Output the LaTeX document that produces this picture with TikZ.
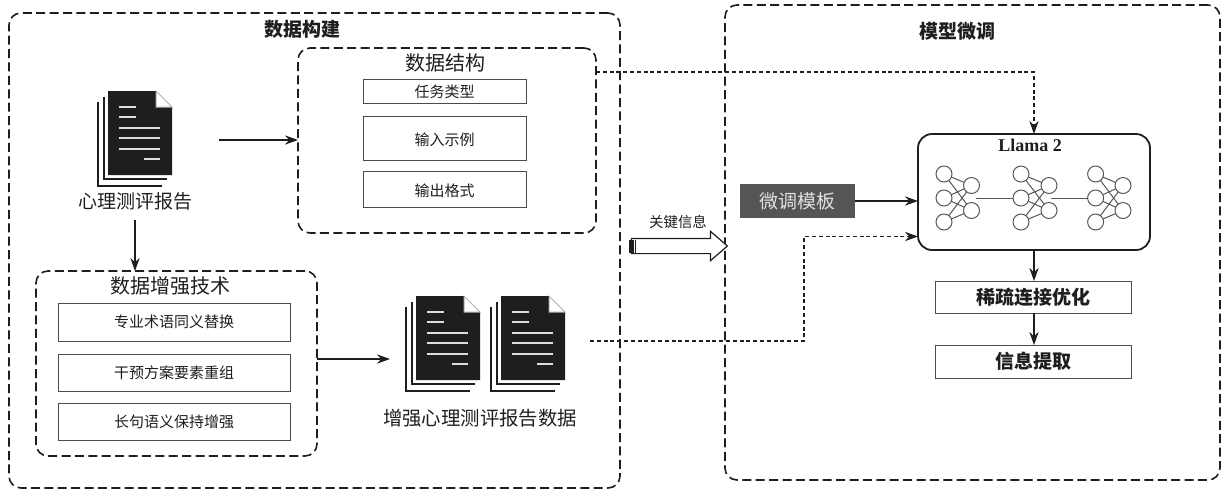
\documentclass[tikz,border=0pt]{standalone}
\usepackage{fontspec}
\setmainfont{Liberation Serif}
\newfontfamily\cjk{Noto Sans CJK SC}
\usetikzlibrary{fit,arrows.meta,shapes.arrows}
\definecolor{ink}{HTML}{1E1E1E}
\definecolor{slate}{HTML}{555555}
\definecolor{paper}{HTML}{DDDDDD}
\tikzset{
  dashbox/.style={draw=ink,line width=0.8pt,dash pattern=on 4.5pt off 2.2pt,rounded corners=6pt,inner sep=0pt,outer sep=0pt},
  plainbox/.style={draw=ink!80,line width=0.5pt,inner sep=0pt,outer sep=0pt},
  flow/.style={ink,line width=0.8pt,-{Stealth[length=6.5pt,width=4.6pt]}},
  dotflow/.style={ink,line width=0.6pt,dash pattern=on 2pt off 1.4pt,-{Stealth[length=6.5pt,width=4.6pt]}},
  neuron/.style={circle,draw=ink!75,line width=0.5pt,minimum size=8pt,inner sep=0pt,outer sep=0pt},
  synapse/.style={ink!75,line width=0.5pt},
  heading/.style={font=\cjk\bfseries\fontsize{9.5}{11}\selectfont,text=ink},
  subhead/.style={font=\cjk\fontsize{10}{12}\selectfont,text=ink},
  small/.style={font=\cjk\fontsize{7.5}{9}\selectfont,text=ink},
  docstack/.pic={
    \draw[ink,line width=1.2pt] (-4,6) -- (-4,88) -- (59,88);
    \draw[ink,line width=1.2pt] (-10,11) -- (-10,95) -- (54,95);
    \fill[ink] (0,0) -- (48,0) -- (64,16) -- (64,84) -- (0,84) -- cycle;
    \draw[paper!80!black,line width=0.5pt,fill=white] (48,0) -- (64,16) -- (48,16) -- cycle;
    \foreach \y/\a/\b in {16/11/28,26/11/28,37/11/52,47/11/52,58/11/52,68/36/52}{\draw[paper,line width=1pt] (\a,\y) -- (\b,\y);}
  }
}
\begin{document}
\begin{tikzpicture}[x=0.5pt,y=-0.5pt]
  \useasboundingbox (0,0) rectangle (1221,495);
  % left and right frames
  \node[dashbox,fit={(9,13) (620,488)}] (buildbox) {};
  \node[dashbox,fit={(725,5) (1220,480)}] (tunebox) {};
  \node[heading] (buildtitle) at (302,29) {数据构建};
  \node[heading] (tunetitle) at (957,31) {模型微调};
  % data structure
  \node[dashbox,fit={(298,48) (596,233)}] (structbox) {};
  \node[subhead] (structtitle) at (445,63) {数据结构};
  \node[plainbox,fit={(363,79) (526,103)},small] (tasktype) {};
  \node[small] (tasklabel) at ([yshift=-0.5pt]tasktype) {任务类型};
  \node[plainbox,fit={(363,116) (526,160)}] (inputbox) {};
  \node[small] (inputlabel) at ([yshift=-1pt]inputbox) {输入示例};
  \node[plainbox,fit={(363,171) (526,207)}] (outputbox) {};
  \node[small] (outputlabel) at ([yshift=-1pt]outputbox) {输出格式};
  % augmentation
  \node[dashbox,fit={(36,271) (317,456)}] (augbox) {};
  \node[subhead] (augtitle) at (170,286) {数据增强技术};
  \node[plainbox,fit={(58,303) (290,341)}] (synbox) {};
  \node[small] (synlabel) at (synbox) {专业术语同义替换};
  \node[plainbox,fit={(58,354) (290,391)}] (planbox) {};
  \node[small] (planlabel) at (planbox) {干预方案要素重组};
  \node[plainbox,fit={(58,403) (290,440)}] (longbox) {};
  \node[small] (longlabel) at (longbox) {长句语义保持增强};
  % documents
  \pic at (108,91) {docstack};
  \pic at (416,296) {docstack};
  \pic at (501,296) {docstack};
  \node[font=\cjk\fontsize{9.5}{11}\selectfont,text=ink] (reportlabel) at (135,201) {心理测评报告};
  \node[font=\cjk\fontsize{9.7}{12}\selectfont,text=ink] (auglabel) at (480,418) {增强心理测评报告数据};
  \coordinate (reportout) at (219,140);
  \coordinate (augin) at (390,359);
  \draw[flow] (reportout) -- (structbox.west |- reportout);
  \draw[flow,shorten <=1.5pt] (reportlabel.south) -- (reportlabel.south |- augbox.north);
  \draw[flow] (augbox.east |- augin) -- (augin);
  % key information arrow
  \node[single arrow,draw=ink,fill=white,line width=0.6pt,inner xsep=0pt,inner ysep=3.5pt,outer sep=0pt,minimum height=48pt,single arrow head extend=3.5pt,single arrow tip angle=82,single arrow head indent=0pt] (keyarrow) at (675,246) {};
  \foreach \x in {630,633,635.5}{\draw[ink,line width=0.6pt] (\x,240) -- (\x,253);}
  \node[font=\cjk\fontsize{7.2}{9}\selectfont,text=ink] (keylabel) at (678,222) {关键信息};
  % llama
  \node[draw=ink,line width=0.9pt,rounded corners=7pt,fit={(918,134) (1150,250)},inner sep=0pt,outer sep=0pt] (llama) {};
  \node[font=\bfseries\fontsize{9}{11}\selectfont,text=ink] (llamatitle) at (1030,145) {Llama 2};
  \foreach \n/\xa/\xb in {1/944/971.5,2/1021/1049,3/1095.6/1123}{
    \node[neuron] (in\n a) at (\xa,174) {};
    \node[neuron] (in\n b) at (\xa,198) {};
    \node[neuron] (in\n c) at (\xa,222) {};
    \node[neuron] (out\n a) at (\xb,185.5) {};
    \node[neuron] (out\n b) at (\xb,210.5) {};
    \foreach \i in {a,b,c}{\foreach \o in {a,b}{\draw[synapse] (in\n\i) -- (out\n\o);}}
  }
  \coordinate (gapa) at (976,198);
  \coordinate (gapb) at (1051,198);
  \draw[synapse] (gapa) -- (in2b);
  \draw[synapse] (gapb) -- (in3b);
  \node[fill=slate,fit={(740,184) (855,218)},inner sep=0pt,outer sep=0pt] (template) {};
  \node[font=\cjk\fontsize{9.5}{11}\selectfont,text=white!88!black] (templatelabel) at (template) {微调模板};
  \node[plainbox,fit={(935,281) (1131,313)}] (sparse) {};
  \node[heading] (sparselabel) at (sparse) {稀疏连接优化};
  \node[plainbox,fit={(935,345) (1131,378)}] (extract) {};
  \node[heading] (extractlabel) at (extract) {信息提取};
  \coordinate (templatein) at (918,201);
  \coordinate (structout) at (596,72);
  \coordinate (augout) at (590,341);
  \coordinate (dashturn) at (804,236.5);
  \coordinate (llamain) at (918,236.5);
  \draw[flow] (template.east |- templatein) -- (templatein);
  \draw[flow] (llama.south) -- (sparse.north -| llama.south);
  \draw[flow] (sparse.south -| llama.south) -- (extract.north -| llama.south);
  \draw[dotflow] (structout) -| (llama.north);
  \draw[dotflow] (augout) -| (dashturn) -- (llamain);
\end{tikzpicture}
\end{document}
